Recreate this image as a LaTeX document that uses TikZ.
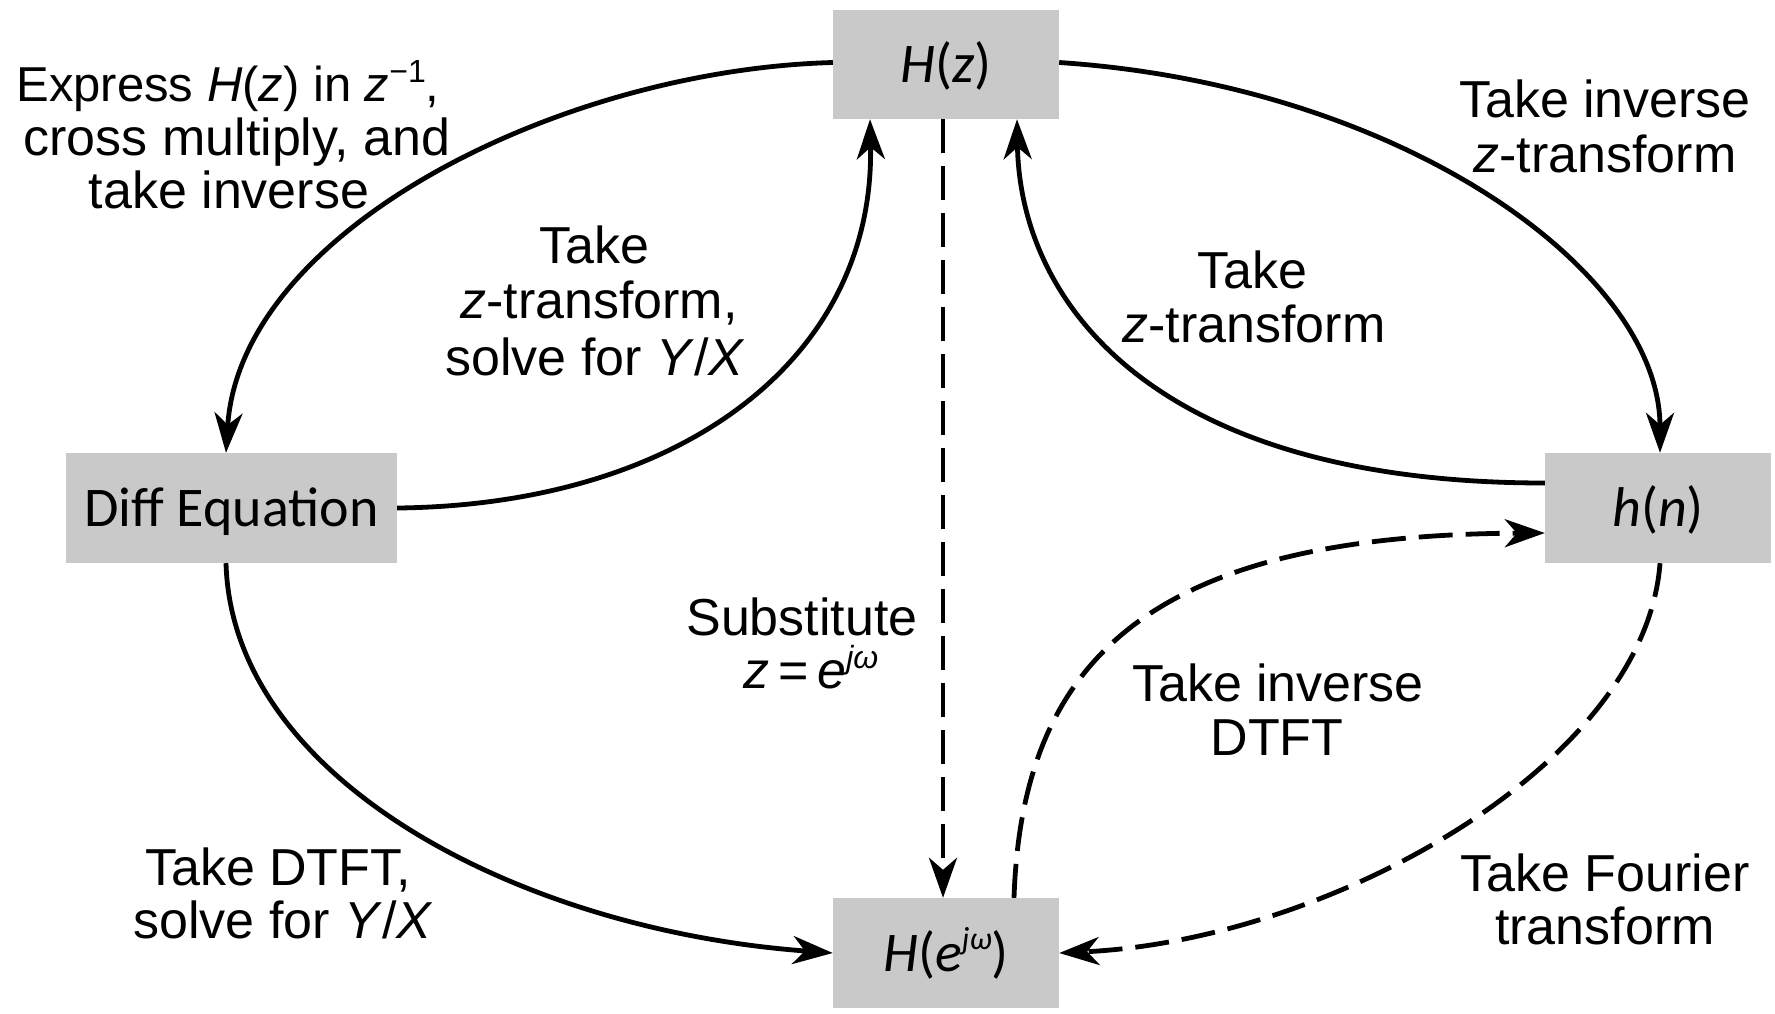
\documentclass[tikz,border=0pt]{standalone}
\usepackage{fontspec}
\setmainfont{Liberation Sans}
\newfontfamily\boxfont{Carlito}
\usetikzlibrary{arrows.meta}
\definecolor{boxgray}{RGB}{201,201,201}
\newcommand{\supx}[1]{\raisebox{0.38em}{\fontsize{32}{32}\selectfont #1}}
\tikzset{
  blk/.style={fill=boxgray, inner sep=0pt, text height=36pt, text depth=0pt,
    font=\boxfont\fontsize{56}{60}\selectfont},
  lbl/.style={anchor=base, inner sep=0pt, font=\fontsize{52}{56}\selectfont},
  conn/.style={line width=4.8pt, -{Stealth[length=40pt,width=28pt,inset=12pt]}},
  dconn/.style={conn, dash pattern=on 34pt off 13pt}
}
\begin{document}
\begin{tikzpicture}[x=1pt,y=-1pt]
\useasboundingbox (0,0) rectangle (1775,1013);
% boxes
\node[blk, minimum width=226pt, minimum height=109pt] (Hz) at (946,64.5) {\textit{H}(\textit{z})};
\node[blk, minimum width=331pt, minimum height=110pt] (Diff) at (231.5,508) {Diff Equation};
\node[blk, minimum width=226pt, minimum height=110pt] (hn) at (1658,508) {\textit{h}(\textit{n})};
\node[blk, minimum width=226pt, minimum height=110pt] (Hw) at (946,953) {\textit{H}(\textit{e}\supx{\textit{jω}})};
% connectors
\draw[conn] ([yshift=2pt]Hz.west) .. controls (560,70) and (240,230) .. ([xshift=-5.5pt]Diff.north);
\draw[conn] (Diff.east) .. controls (680,505) and (875,360) .. ([xshift=-76pt]Hz.south);
\draw[conn] ([yshift=2pt]Hz.east) .. controls (1400,85) and (1660,270) .. ([xshift=2pt]hn.north);
\draw[conn] ([yshift=25pt]hn.west) .. controls (1150,483) and (1020,300) .. ([xshift=71pt]Hz.south);
\draw[dconn] ([xshift=-3pt]Hz.south) -- ([xshift=-3pt]Hw.north);
\draw[conn] ([xshift=-5.5pt]Diff.south) .. controls (232,780) and (520,930) .. (Hw.west);
\draw[dconn] ([xshift=2pt]hn.south) .. controls (1645,765) and (1330,940) .. (Hw.east);
\draw[dconn] ([xshift=68pt]Hw.north) .. controls (1022,660) and (1150,535) .. ([yshift=-25pt]hn.west);
% labels
\node[lbl, font=\fontsize{49}{56}\selectfont] (l1a) at (228,101) {Express \textit{H}(\textit{z}) in \textit{z}\supx{−1},};
\node[lbl] (l1b) at (237,155) {cross multiply, and};
\node[lbl] (l1c) at (229,208) {take inverse};
\node[lbl] (l2a) at (594,263) {Take};
\node[lbl] (l2b) at (599,318) {\textit{z}-transform,};
\node[lbl] (l2c) at (595,375) {solve for \textit{Y}/\textit{X}};
\node[lbl] (l3a) at (1605,117) {Take inverse};
\node[lbl] (l3b) at (1605,172) {\textit{z}-transform};
\node[lbl] (l4a) at (1252,288) {Take};
\node[lbl] (l4b) at (1254,342) {\textit{z}-transform};
\node[lbl] (l5a) at (802,635) {Substitute};
\node[lbl] (l5b) at (811,688) {\textit{z}\,=\,\textit{e}\supx{\textit{jω}}};
\node[lbl] (l6a) at (1278,701) {Take inverse};
\node[lbl] (l6b) at (1277,755) {DTFT};
\node[lbl] (l7a) at (278,885) {Take DTFT,};
\node[lbl] (l7b) at (283,938) {solve for \textit{Y}/\textit{X}};
\node[lbl] (l8a) at (1605,891) {Take Fourier};
\node[lbl] (l8b) at (1605,944) {transform};
\end{tikzpicture}
\end{document}
